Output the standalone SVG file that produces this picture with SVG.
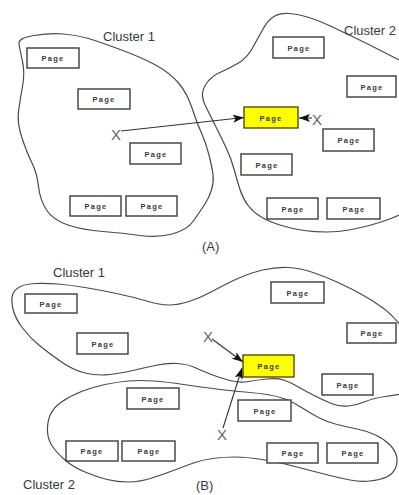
<svg xmlns="http://www.w3.org/2000/svg" width="399" height="495" viewBox="0 0 399 495">
  <style>
    .cluster { fill: none; stroke: #4a4a4a; stroke-width: 1.2; }
    .page rect { fill: #ffffff; stroke: #3c3c3c; stroke-width: 1.4; }
    .page.hot rect { fill: #ffff00; stroke: #505000; }
    .page text { font-family: "Liberation Sans", Arial, sans-serif; font-size: 7.5px; font-weight: bold; letter-spacing: 1.3px; fill: #3a3a3a; text-anchor: middle; }
    .label { font-family: "Liberation Sans", Arial, sans-serif; font-size: 13px; fill: #3a3a3a; }
    .mark { font-family: "Liberation Sans", Arial, sans-serif; font-size: 15px; fill: #666666; text-anchor: middle; }
    .link { stroke: #333333; stroke-width: 1.1; fill: none; marker-end: url(#head); }
  </style>
  <defs>
    <marker id="head" markerUnits="userSpaceOnUse" markerWidth="12" markerHeight="9" refX="11" refY="4.5" orient="auto">
      <path d="M0,0.5 L11,4.5 L0,8.5 L2.5,4.5 Z" fill="#111111"/>
    </marker>
  </defs>

  <!-- ===== Part A ===== -->
  <g id="a-cluster1">
    <path class="cluster" d="M19,44 Q18,38 34,35.5 Q50,33 63.5,34 Q77,35 88.5,38.5 Q100,42 121.5,50 Q143,58 156.5,65.5 Q170,73 178.5,83 Q187,93 192,108 Q197,123 201.5,133 Q206,143 209,155 Q212,167 213,174.5 Q214,182 211.5,190 Q209,198 204,205.5 Q199,213 193,221.5 Q187,230 172,234 Q157,238 140,235.5 Q123,233 103,231.5 Q83,230 68,225 Q53,220 46.5,210 Q40,200 38.5,186.5 Q37,173 32,163 Q27,153 22,138 Q17,123 18.5,111.5 Q20,100 22.5,86.5 Q25,73 22.5,61.5 Q20,50 19,44 Z"/>
    <text class="label" x="103" y="41">Cluster 1</text>
  </g>
  <g id="a-cluster2">
    <path class="cluster" d="M425,105 Q420,70 407.5,64 Q395,58 382.5,51.5 Q370,45 357.5,39 Q345,33 332.5,27 Q320,21 309,17.5 Q298,14 289,13.5 Q280,13 274,16.5 Q268,20 263,29 Q258,38 252.5,48 Q247,58 238.5,63 Q230,68 221,72 Q212,76 207.5,82 Q203,88 202.5,93.5 Q202,99 206.5,108 Q211,117 216,127 Q221,137 226,147.5 Q231,158 234,169 Q237,180 240,189.5 Q243,199 248.5,206 Q254,213 262,217.5 Q270,222 281.5,225.5 Q293,229 304,230.5 Q315,232 326.5,232 Q338,232 349,230 Q360,228 371,225 Q382,222 391,218.5 Q400,215 410,210 Q420,205 425,172.5 Q430,140 425,105 Z"/>
    <text class="label" x="344" y="35">Cluster 2</text>
  </g>

  <g id="a-p1" class="page"><rect x="27" y="48" width="52" height="20"/><text x="53" y="61">Page</text></g>
  <g id="a-p2" class="page"><rect x="78" y="89" width="52" height="20"/><text x="104" y="102">Page</text></g>
  <g id="a-p3" class="page"><rect x="130" y="143" width="51" height="21"/><text x="156" y="156.5">Page</text></g>
  <g id="a-p4" class="page"><rect x="70" y="196" width="51" height="20"/><text x="96" y="209">Page</text></g>
  <g id="a-p5" class="page"><rect x="126" y="196" width="51" height="20"/><text x="152" y="209">Page</text></g>

  <g id="a-p6" class="page"><rect x="273" y="37" width="51" height="21"/><text x="299" y="50.5">Page</text></g>
  <g id="a-p7" class="page"><rect x="347" y="76" width="49" height="21"/><text x="372" y="89.5">Page</text></g>
  <g id="a-target" class="page hot"><rect x="244" y="107" width="54" height="21"/><text x="271" y="120.5">Page</text></g>
  <g id="a-p8" class="page"><rect x="323" y="129" width="51" height="22"/><text x="349" y="143">Page</text></g>
  <g id="a-p9" class="page"><rect x="241" y="154" width="51" height="21"/><text x="267" y="167.5">Page</text></g>
  <g id="a-p10" class="page"><rect x="267" y="198" width="51" height="21"/><text x="293" y="211.5">Page</text></g>
  <g id="a-p11" class="page"><rect x="327" y="198" width="53" height="21"/><text x="354" y="211.5">Page</text></g>

  <g id="a-x1"><text class="mark" x="116" y="139.5">X</text></g>
  <g id="a-x2"><text class="mark" x="317" y="124.5">X</text></g>
  <text class="label" x="202" y="251">(A)</text>

  <!-- ===== Part B ===== -->
  <g id="b-cluster1">
    <path class="cluster" d="M12.5,295 Q14,290 19.5,287 Q25,284 35,283.5 Q45,283 57.5,284 Q70,285 85,287.5 Q100,290 116.5,293.5 Q133,297 146.5,301 Q160,305 169,305 Q178,305 189,301.5 Q200,298 211,292 Q222,286 235.5,279.5 Q249,273 262.5,270 Q276,267 288,267.5 Q300,268 313,272.5 Q326,277 338,282.5 Q350,288 361,294 Q372,300 383,308 Q394,316 404,330 Q418,350 418,370 Q418,392 403.5,393.5 Q397,395 385.5,396.5 Q374,398 365.5,401.5 Q357,405 348.5,406 Q340,407 331.5,403.5 Q323,400 315,396 Q307,392 298.5,387 Q290,382 283.5,380 Q277,378 267,379 Q257,380 248.5,381.5 Q240,383 230,380.5 Q220,378 210,374 Q200,370 193.5,367 Q187,364 177,363.5 Q167,363 155,365.5 Q143,368 133,370.5 Q123,373 110,374.5 Q97,376 85,373 Q73,370 61.5,362 Q50,354 40,346 Q30,338 22.5,328 Q15,318 13,309 Q11,300 12.5,295 Z"/>
    <text class="label" x="53" y="277">Cluster 1</text>
  </g>
  <g id="b-cluster2">
    <path class="cluster" d="M47.5,431.5 Q47,423 50,415.5 Q53,408 61.5,402 Q70,396 81.5,391.5 Q93,387 105,384.5 Q117,382 128.5,381 Q140,380 153.5,381 Q167,382 183.5,384.5 Q200,387 216.5,389 Q233,391 245,392 Q257,393 267,394.5 Q277,396 285,399 Q293,402 301.5,407.5 Q310,413 318.5,417.5 Q327,422 337,424.5 Q347,427 357,429 Q367,431 375.5,435 Q384,439 389.5,444.5 Q395,450 396.5,456 Q398,462 395.5,468 Q393,474 386.5,477 Q380,480 370,481 Q360,482 350,480 Q340,478 330,475.5 Q320,473 308.5,470 Q297,467 287,464.5 Q277,462 262,459.5 Q247,457 235,457 Q223,457 212.5,458.5 Q202,460 193.5,463 Q185,466 176,469.5 Q167,473 153.5,477.5 Q140,482 128.5,482 Q117,482 107,479.5 Q97,477 85,472 Q73,467 65,460 Q57,453 52.5,446.5 Q48,440 47.5,431.5 Z"/>
    <text class="label" x="23" y="489">Cluster 2</text>
  </g>

  <g id="b-p1" class="page"><rect x="25" y="294" width="52" height="19"/><text x="51" y="306.5">Page</text></g>
  <g id="b-p2" class="page"><rect x="77" y="333" width="51" height="21"/><text x="103" y="346.5">Page</text></g>
  <g id="b-p3" class="page"><rect x="271" y="282" width="53" height="21"/><text x="298" y="295.5">Page</text></g>
  <g id="b-p4" class="page"><rect x="347" y="323" width="49" height="20"/><text x="372" y="336">Page</text></g>
  <g id="b-target" class="page hot"><rect x="243" y="355" width="51" height="22"/><text x="269" y="369">Page</text></g>
  <g id="b-p5" class="page"><rect x="322" y="374" width="51" height="21"/><text x="348" y="387.5">Page</text></g>

  <g id="b-p6" class="page"><rect x="127" y="388" width="52" height="21"/><text x="153" y="401.5">Page</text></g>
  <g id="b-p7" class="page"><rect x="238" y="400" width="53" height="21"/><text x="265" y="413.5">Page</text></g>
  <g id="b-p8" class="page"><rect x="66" y="441" width="52" height="20"/><text x="92" y="454">Page</text></g>
  <g id="b-p9" class="page"><rect x="122" y="441" width="53" height="20"/><text x="149" y="454">Page</text></g>
  <g id="b-p10" class="page"><rect x="267" y="443" width="51" height="20"/><text x="293" y="456">Page</text></g>
  <g id="b-p11" class="page"><rect x="327" y="443" width="51" height="20"/><text x="353" y="456">Page</text></g>

  <g id="b-x1"><text class="mark" x="208" y="341.5">X</text></g>
  <g id="b-x2"><text class="mark" x="222" y="439.5">X</text></g>
  <text class="label" x="196" y="490">(B)</text>

  <!-- links into the highlighted pages -->
  <g id="connectors">
    <line class="link" x1="121" y1="131" x2="244" y2="117.5"/>
    <line class="link" x1="312" y1="118" x2="299" y2="118"/>
    <line class="link" x1="212" y1="339" x2="243" y2="362"/>
    <line class="link" x1="223" y1="428" x2="242" y2="368"/>
  </g>
</svg>
